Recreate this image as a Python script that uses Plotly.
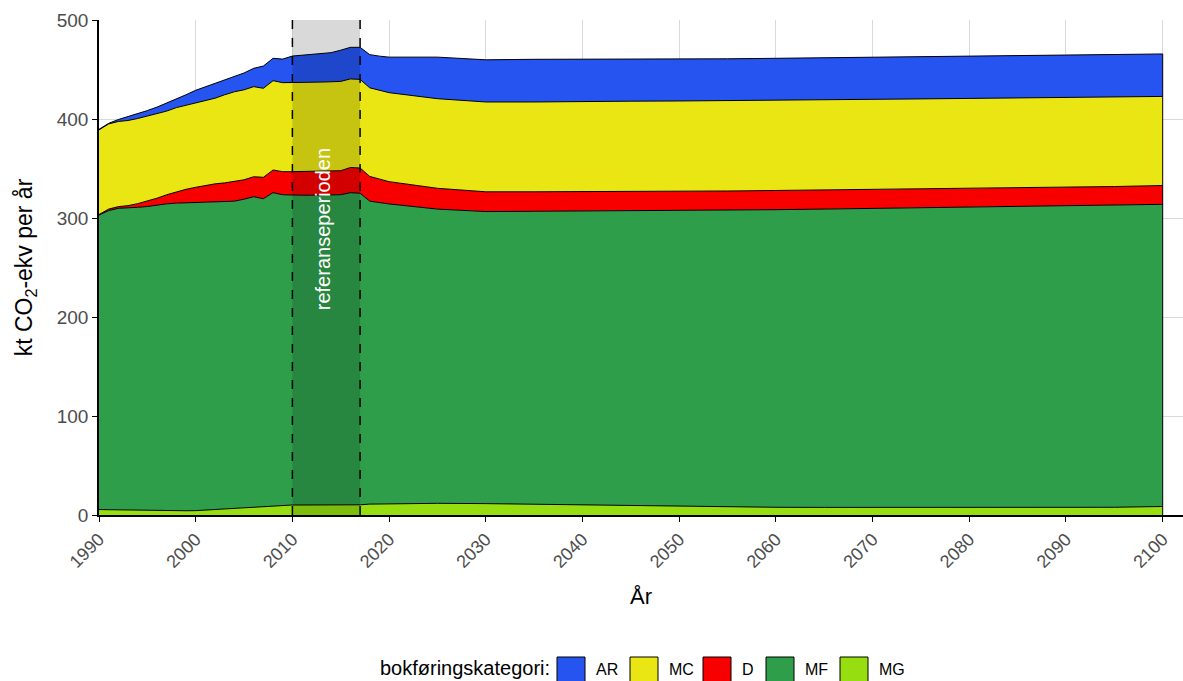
import plotly.graph_objects as go

# ---------------- data ----------------
years = list(range(1990, 2021)) + list(range(2025, 2101, 5))

MG = [5.5, 5.3, 5.0, 4.8, 4.6, 4.4, 4.3, 4.3, 4.3, 4.3, 4.4, 5.0, 5.6, 6.2, 6.8, 7.4, 8.0, 8.6, 9.2, 9.8,
      10.1, 10.1, 10.1, 10.1, 10.1, 10.1, 10.1, 10.3, 11.0, 11.1, 11.2,
      11.8, 11.5, 10.8, 10.1, 9.6, 9.0, 8.2, 7.8, 7.7, 7.7, 7.7, 7.7, 7.7, 7.7, 7.8, 8.6]
MF = [297.5, 302.2, 304.8, 305.2, 306.2, 307.2, 309.0, 310.0, 310.7, 311.0, 311.3, 311.2, 310.9, 310.1, 310.2,
      311.6, 313.5, 310.9, 316.4, 313.7, 312.9, 312.9, 312.9, 313.0, 313.1, 313.4, 315.5, 314.7, 306.0, 304.4, 303.0,
      297.2, 295.0, 296.0, 296.9, 297.7, 298.6, 299.8, 300.6, 301.3, 301.9, 302.5, 303.1, 303.8, 304.5, 305.2, 305.2]
D = [0.5, 1.5, 1.7, 2.5, 3.7, 5.4, 6.7, 9.2, 11.5, 13.7, 15.3, 16.6, 18.0, 19.2, 20.0, 19.6, 20.2, 21.6, 22.9, 23.3,
     23.8, 24.0, 24.1, 24.1, 24.2, 24.3, 25.4, 25.5, 25.0, 23.5, 22.5,
     21.0, 20.0, 19.7, 19.6, 19.5, 19.4, 19.3, 19.4, 19.3, 19.2, 19.1, 19.0, 18.9, 18.8, 18.8, 19.0]
MC = [85.5, 86.0, 86.0, 86.0, 86.0, 85.8, 85.2, 84.5, 85.0, 85.0, 85.0, 85.7, 86.5, 89.0, 90.5, 90.9, 91.0, 89.9,
      90.2, 89.9, 89.9, 89.9, 90.0, 90.1, 90.2, 90.2, 89.5, 89.5, 89.5, 90.0, 89.9,
      90.5, 90.7, 90.7, 91.2, 91.2, 91.2, 91.2, 91.0, 91.0, 91.0, 91.0, 91.0, 90.9, 90.8, 90.4, 90.0]
AR = [0.6, 0.6, 2.0, 3.8, 4.5, 5.7, 6.8, 8.0, 8.5, 10.5, 13.0, 14.0, 15.0, 15.0, 15.5, 17.0, 18.5, 22.5, 22.6, 23.8,
      26.9, 27.6, 28.3, 28.9, 29.4, 31.5, 31.9, 32.4, 33.5, 34.5, 35.9,
      42.0, 42.6, 43.1, 42.5, 42.4, 42.3, 42.3, 42.5, 42.5, 42.5, 42.5, 42.5, 42.5, 42.6, 42.8, 42.9]

categories = ["MG", "MF", "D", "MC", "AR"]          # stacking order, bottom to top
legend_order = ["AR", "MC", "D", "MF", "MG"]
colors = {"AR": "#2554F0", "MC": "#EAE614", "D": "#F80000", "MF": "#2E9E4B", "MG": "#96DE10"}
series = {"MG": MG, "MF": MF, "D": D, "MC": MC, "AR": AR}

ref_start, ref_end = 2010, 2017
ref_label = "referanseperioden"
y_ticks = [0, 100, 200, 300, 400, 500]
x_ticks = list(range(1990, 2101, 10))

FONT = "Liberation Sans, Arial, sans-serif"

# ---------------- figure ----------------
fig = go.Figure()
for cat in categories:
    fig.add_trace(go.Scatter(
        x=years, y=series[cat], name=cat, mode="lines", stackgroup="one",
        fillcolor=colors[cat], line=dict(color="black", width=1), hoverinfo="x+y+name",
        showlegend=False))

total_end = sum(series[c][-1] for c in categories)
fig.add_trace(go.Scatter(x=[years[-1], years[-1]], y=[0, total_end], mode="lines",
                         line=dict(color="black", width=1), showlegend=False, hoverinfo="skip"))

# reference period
fig.add_shape(type="rect", xref="x", yref="y", x0=ref_start, x1=ref_end, y0=0, y1=500,
              fillcolor="rgba(0,0,0,0.15)", line=dict(width=0), layer="above")
for xv in (ref_start, ref_end):
    fig.add_shape(type="line", xref="x", yref="y", x0=xv, x1=xv, y0=0, y1=500,
                  line=dict(color="black", width=1.5, dash="dash"), layer="above")
fig.add_annotation(x=(ref_start + ref_end) / 2 - 0.3, y=289, xref="x", yref="y", text=ref_label,
                   textangle=-90, showarrow=False, font=dict(color="white", size=20, family=FONT))

# manual legend
L, R, T, B = 99, 0, 20, 166
W, H = 1183 - L - R, 681 - T - B
def px(xp):
    return (xp - L) / W
def py(yp):
    return (T + H - yp) / H

fig.add_annotation(x=px(552), y=py(668), xref="paper", yref="paper", text="bokføringskategori:",
                   xanchor="right", yanchor="middle", showarrow=False,
                   font=dict(size=20, color="black", family=FONT))
box_left = [557, 630, 703, 766, 840]
for cat, bx in zip(legend_order, box_left):
    fig.add_shape(type="rect", xref="paper", yref="paper", x0=px(bx), x1=px(bx + 28),
                  y0=py(686), y1=py(657), fillcolor=colors[cat], line=dict(color="black", width=1))
    fig.add_annotation(x=px(bx + 37), y=py(669), xref="paper", yref="paper", text=cat,
                       xanchor="left", yanchor="middle", showarrow=False,
                       font=dict(size=16, color="black", family=FONT))

fig.update_layout(
    width=1183, height=681,
    margin=dict(l=L, r=R, t=T, b=B),
    paper_bgcolor="white", plot_bgcolor="white",
    showlegend=False,
    font=dict(family=FONT, color="#4D4D4D"),
)
fig.update_xaxes(
    range=[1990, 2102.1], tickvals=x_ticks, ticktext=[str(v) for v in x_ticks], tickangle=-45,
    tickfont=dict(size=18, color="#4D4D4D"), ticks="outside", ticklen=5, tickcolor="black",
    showgrid=True, gridcolor="#D9D9D9", gridwidth=1, showline=True, linecolor="black", linewidth=1.5,
    zeroline=False,
    title=dict(text="År", font=dict(size=22, color="black"), standoff=18),
)
fig.update_yaxes(
    range=[0, 500], tickvals=y_ticks, tickfont=dict(size=19, color="#4D4D4D"),
    ticks="outside", ticklen=5, tickcolor="black",
    showgrid=True, gridcolor="#D9D9D9", gridwidth=1, showline=True, linecolor="black", linewidth=1.5,
    zeroline=False,
    title=dict(text="kt CO<sub>2</sub>-ekv per år", font=dict(size=23, color="black"), standoff=18),
)

fig.write_html("out.html", config={"displayModeBar": False},
               post_script="document.body.style.margin='0';document.body.style.overflow='hidden';")
